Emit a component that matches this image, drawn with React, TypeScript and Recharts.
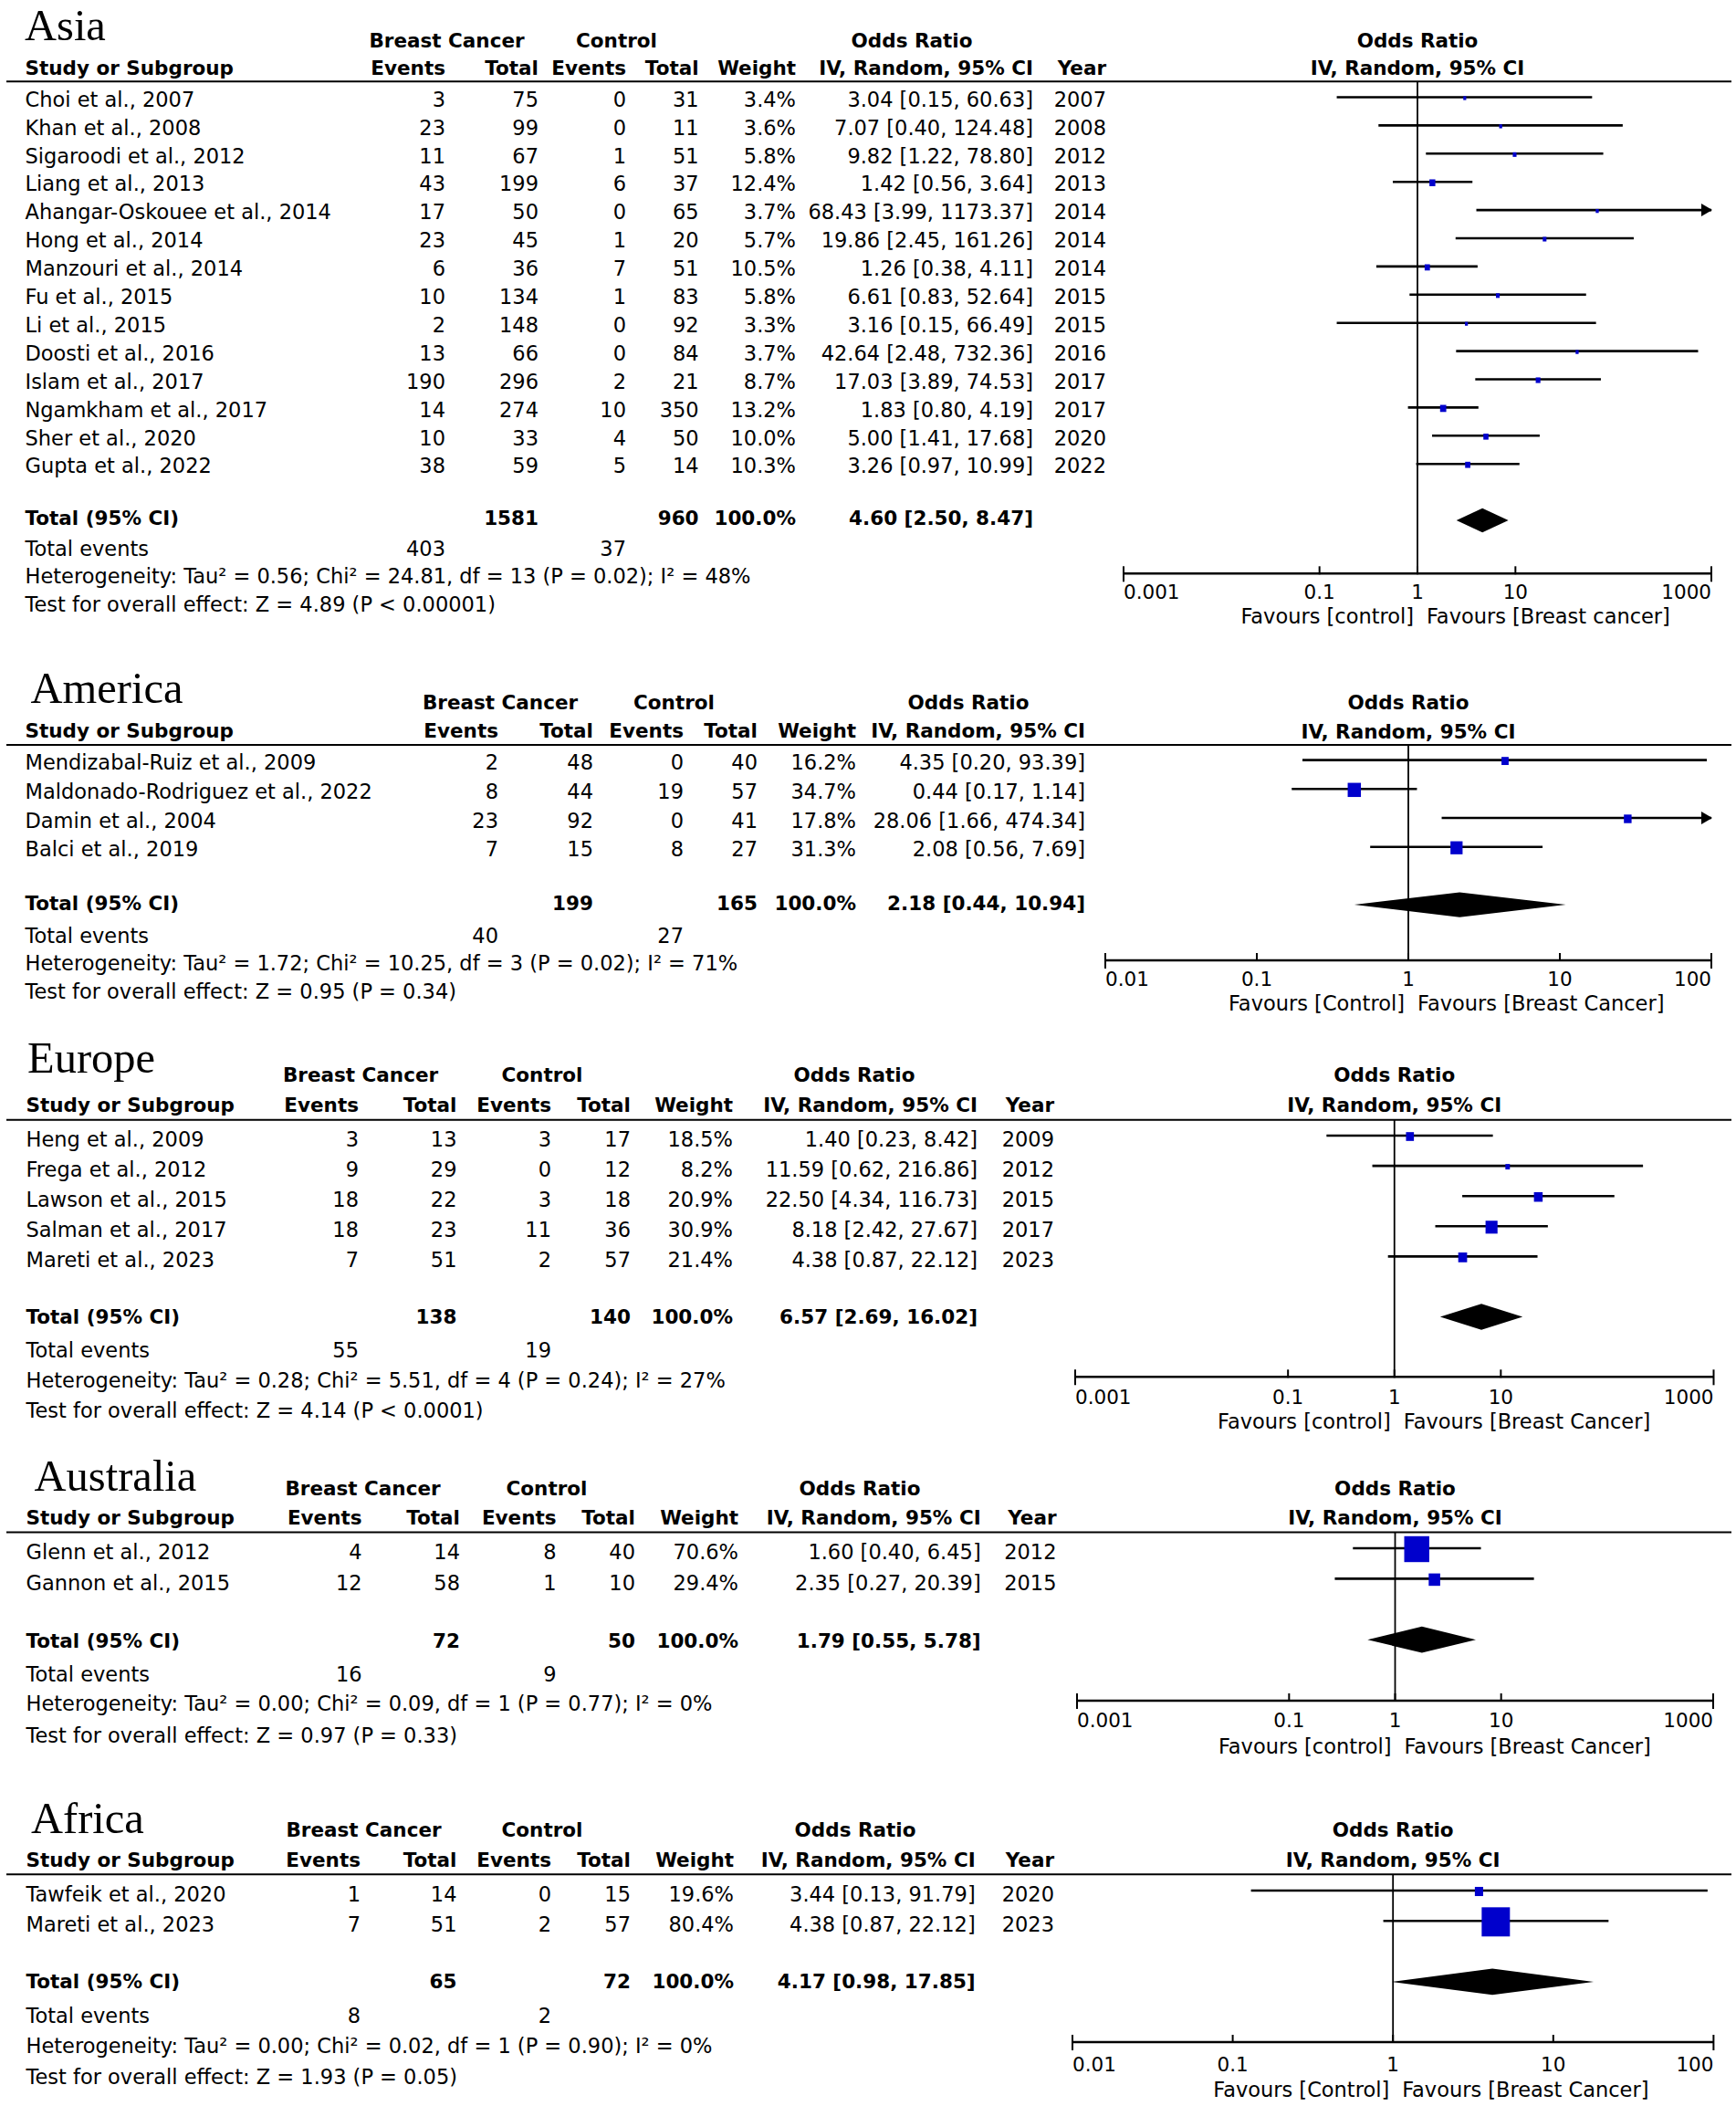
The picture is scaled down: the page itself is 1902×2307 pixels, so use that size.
import React from 'react';
import { ComposedChart, XAxis, YAxis, Scatter, Area, ReferenceLine } from 'recharts';

const FONT = '"DejaVu Sans", "Noto Sans", sans-serif';
const SERIF = '"Liberation Serif", "DejaVu Serif", serif';
const FS = 22.5;
const FSB = 21.5;
const SQUARE = '#0000CC';

// ---------------- Asia ----------------
const asiaStudies = ['Choi et al., 2007', 'Khan et al., 2008', 'Sigaroodi et al., 2012', 'Liang et al., 2013', 'Ahangar-Oskouee et al., 2014', 'Hong et al., 2014', 'Manzouri et al., 2014', 'Fu et al., 2015', 'Li et al., 2015', 'Doosti et al., 2016', 'Islam et al., 2017', 'Ngamkham et al., 2017', 'Sher et al., 2020', 'Gupta et al., 2022'];
const asiaBcEvents = [3, 23, 11, 43, 17, 23, 6, 10, 2, 13, 190, 14, 10, 38];
const asiaBcTotal = [75, 99, 67, 199, 50, 45, 36, 134, 148, 66, 296, 274, 33, 59];
const asiaCtrlEvents = [0, 0, 1, 6, 0, 1, 7, 1, 0, 0, 2, 10, 4, 5];
const asiaCtrlTotal = [31, 11, 51, 37, 65, 20, 51, 83, 92, 84, 21, 350, 50, 14];
const asiaWeight = [3.4, 3.6, 5.8, 12.4, 3.7, 5.7, 10.5, 5.8, 3.3, 3.7, 8.7, 13.2, 10.0, 10.3];
const asiaOR = [3.04, 7.07, 9.82, 1.42, 68.43, 19.86, 1.26, 6.61, 3.16, 42.64, 17.03, 1.83, 5.0, 3.26];
const asiaLower = [0.15, 0.4, 1.22, 0.56, 3.99, 2.45, 0.38, 0.83, 0.15, 2.48, 3.89, 0.8, 1.41, 0.97];
const asiaUpper = [60.63, 124.48, 78.8, 3.64, 1173.37, 161.26, 4.11, 52.64, 66.49, 732.36, 74.53, 4.19, 17.68, 10.99];
const asiaYears = [2007, 2008, 2012, 2013, 2014, 2014, 2014, 2015, 2015, 2016, 2017, 2017, 2020, 2022];
const asiaTotals = [1581, 960];
const asiaPooled = [4.6, 2.5, 8.47];
const asiaEvents = [403, 37];
const asiaHet = 'Heterogeneity: Tau² = 0.56; Chi² = 24.81, df = 13 (P = 0.02); I² = 48%';
const asiaOverall = 'Test for overall effect: Z = 4.89 (P < 0.00001)';
const asiaTicks = [0.001, 0.1, 1, 10, 1000];
const asiaTickLabels = ['0.001', '0.1', '1', '10', '1000'];
const asiaFavours = ['Favours [control]', 'Favours [Breast cancer]'];

// ---------------- America ----------------
const amStudies = ['Mendizabal-Ruiz et al., 2009', 'Maldonado-Rodriguez et al., 2022', 'Damin et al., 2004', 'Balci et al., 2019'];
const amBcEvents = [2, 8, 23, 7];
const amBcTotal = [48, 44, 92, 15];
const amCtrlEvents = [0, 19, 0, 8];
const amCtrlTotal = [40, 57, 41, 27];
const amWeight = [16.2, 34.7, 17.8, 31.3];
const amOR = [4.35, 0.44, 28.06, 2.08];
const amLower = [0.2, 0.17, 1.66, 0.56];
const amUpper = [93.39, 1.14, 474.34, 7.69];
const amTotals = [199, 165];
const amPooled = [2.18, 0.44, 10.94];
const amEvents = [40, 27];
const amHet = 'Heterogeneity: Tau² = 1.72; Chi² = 10.25, df = 3 (P = 0.02); I² = 71%';
const amOverall = 'Test for overall effect: Z = 0.95 (P = 0.34)';
const amTicks = [0.01, 0.1, 1, 10, 100];
const amTickLabels = ['0.01', '0.1', '1', '10', '100'];
const amFavours = ['Favours [Control]', 'Favours [Breast Cancer]'];

// ---------------- Europe ----------------
const euStudies = ['Heng et al., 2009', 'Frega et al., 2012', 'Lawson et al., 2015', 'Salman et al., 2017', 'Mareti et al., 2023'];
const euBcEvents = [3, 9, 18, 18, 7];
const euBcTotal = [13, 29, 22, 23, 51];
const euCtrlEvents = [3, 0, 3, 11, 2];
const euCtrlTotal = [17, 12, 18, 36, 57];
const euWeight = [18.5, 8.2, 20.9, 30.9, 21.4];
const euOR = [1.4, 11.59, 22.5, 8.18, 4.38];
const euLower = [0.23, 0.62, 4.34, 2.42, 0.87];
const euUpper = [8.42, 216.86, 116.73, 27.67, 22.12];
const euYears = [2009, 2012, 2015, 2017, 2023];
const euTotals = [138, 140];
const euPooled = [6.57, 2.69, 16.02];
const euEvents = [55, 19];
const euHet = 'Heterogeneity: Tau² = 0.28; Chi² = 5.51, df = 4 (P = 0.24); I² = 27%';
const euOverall = 'Test for overall effect: Z = 4.14 (P < 0.0001)';
const euTicks = [0.001, 0.1, 1, 10, 1000];
const euTickLabels = ['0.001', '0.1', '1', '10', '1000'];
const euFavours = ['Favours [control]', 'Favours [Breast Cancer]'];

// ---------------- Australia ----------------
const auStudies = ['Glenn et al., 2012', 'Gannon et al., 2015'];
const auBcEvents = [4, 12];
const auBcTotal = [14, 58];
const auCtrlEvents = [8, 1];
const auCtrlTotal = [40, 10];
const auWeight = [70.6, 29.4];
const auOR = [1.6, 2.35];
const auLower = [0.4, 0.27];
const auUpper = [6.45, 20.39];
const auYears = [2012, 2015];
const auTotals = [72, 50];
const auPooled = [1.79, 0.55, 5.78];
const auEvents = [16, 9];
const auHet = 'Heterogeneity: Tau² = 0.00; Chi² = 0.09, df = 1 (P = 0.77); I² = 0%';
const auOverall = 'Test for overall effect: Z = 0.97 (P = 0.33)';
const auTicks = [0.001, 0.1, 1, 10, 1000];
const auTickLabels = ['0.001', '0.1', '1', '10', '1000'];
const auFavours = ['Favours [control]', 'Favours [Breast Cancer]'];

// ---------------- Africa ----------------
const afStudies = ['Tawfeik et al., 2020', 'Mareti et al., 2023'];
const afBcEvents = [1, 7];
const afBcTotal = [14, 51];
const afCtrlEvents = [0, 2];
const afCtrlTotal = [15, 57];
const afWeight = [19.6, 80.4];
const afOR = [3.44, 4.38];
const afLower = [0.13, 0.87];
const afUpper = [91.79, 22.12];
const afYears = [2020, 2023];
const afTotals = [65, 72];
const afPooled = [4.17, 0.98, 17.85];
const afEvents = [8, 2];
const afHet = 'Heterogeneity: Tau² = 0.00; Chi² = 0.02, df = 1 (P = 0.90); I² = 0%';
const afOverall = 'Test for overall effect: Z = 1.93 (P = 0.05)';
const afTicks = [0.01, 0.1, 1, 10, 100];
const afTickLabels = ['0.01', '0.1', '1', '10', '100'];
const afFavours = ['Favours [Control]', 'Favours [Breast Cancer]'];

type Layout = {
  titleX: number; titleBase: number; h1: number; h2: number; lineY: number;
  row0: number; rowGap: number; totalBase: number; eventsBase: number; hetBase: number; testBase: number;
  axisY: number; tickBase: number; favBase: number; pxMin: number; pxMax: number;
  nameX: number; ev1: number; tot1: number; ev2: number; tot2: number; wt: number; orX: number; yearX: number;
  bcHead: number; ctrlHead: number; orHead: number; ciOff: number;
};

type Panel = {
  title: string; studies: string[]; bcE: number[]; bcT: number[]; cE: number[]; cT: number[];
  w: number[]; or: number[]; lo: number[]; hi: number[]; years?: number[];
  totals: number[]; pooled: number[]; events: number[]; het: string; overall: string;
  ticks: number[]; tickLabels: string[]; favours: string[]; L: Layout;
};

const panels: Panel[] = [
  {
    title: 'Asia', studies: asiaStudies, bcE: asiaBcEvents, bcT: asiaBcTotal, cE: asiaCtrlEvents, cT: asiaCtrlTotal,
    w: asiaWeight, or: asiaOR, lo: asiaLower, hi: asiaUpper, years: asiaYears, totals: asiaTotals, pooled: asiaPooled,
    events: asiaEvents, het: asiaHet, overall: asiaOverall, ticks: asiaTicks, tickLabels: asiaTickLabels, favours: asiaFavours,
    L: { titleX: 27, titleBase: 43.5, h1: 51.7, h2: 81.7, lineY: 89.3, row0: 116.7, rowGap: 30.9, totalBase: 575, eventsBase: 609.3,
      hetBase: 639.3, testBase: 670, axisY: 628, tickBase: 656, favBase: 683, pxMin: 1231, pxMax: 1875, nameX: 27.5,
      ev1: 488, tot1: 590, ev2: 686, tot2: 765.6, wt: 872, orX: 1132, yearX: 1212, bcHead: 489.5, ctrlHead: 675.5, orHead: 999, ciOff: 10.5 },
  },
  {
    title: 'America', studies: amStudies, bcE: amBcEvents, bcT: amBcTotal, cE: amCtrlEvents, cT: amCtrlTotal,
    w: amWeight, or: amOR, lo: amLower, hi: amUpper, totals: amTotals, pooled: amPooled,
    events: amEvents, het: amHet, overall: amOverall, ticks: amTicks, tickLabels: amTickLabels, favours: amFavours,
    L: { titleX: 33.5, titleBase: 770, h1: 776.7, h2: 808.3, lineY: 816, row0: 843.3, rowGap: 31.7, totalBase: 996.7, eventsBase: 1032.7,
      hetBase: 1063.3, testBase: 1094, axisY: 1051.7, tickBase: 1080, favBase: 1106.7, pxMin: 1211, pxMax: 1875, nameX: 27.5,
      ev1: 546, tot1: 650, ev2: 749, tot2: 830, wt: 938, orX: 1189, yearX: 0, bcHead: 548, ctrlHead: 738.5, orHead: 1061, ciOff: 11 },
  },
  {
    title: 'Europe', studies: euStudies, bcE: euBcEvents, bcT: euBcTotal, cE: euCtrlEvents, cT: euCtrlTotal,
    w: euWeight, or: euOR, lo: euLower, hi: euUpper, years: euYears, totals: euTotals, pooled: euPooled,
    events: euEvents, het: euHet, overall: euOverall, ticks: euTicks, tickLabels: euTickLabels, favours: euFavours,
    L: { titleX: 30, titleBase: 1175, h1: 1185, h2: 1218.3, lineY: 1226.7, row0: 1256, rowGap: 33.1, totalBase: 1450, eventsBase: 1487.3,
      hetBase: 1520, testBase: 1552.7, axisY: 1508.3, tickBase: 1538, favBase: 1565, pxMin: 1177.5, pxMax: 1877, nameX: 28.5,
      ev1: 393, tot1: 500.5, ev2: 604, tot2: 691, wt: 803, orX: 1071, yearX: 1155, bcHead: 395, ctrlHead: 594, orHead: 936, ciOff: 12 },
  },
  {
    title: 'Australia', studies: auStudies, bcE: auBcEvents, bcT: auBcTotal, cE: auCtrlEvents, cT: auCtrlTotal,
    w: auWeight, or: auOR, lo: auLower, hi: auUpper, years: auYears, totals: auTotals, pooled: auPooled,
    events: auEvents, het: auHet, overall: auOverall, ticks: auTicks, tickLabels: auTickLabels, favours: auFavours,
    L: { titleX: 37.6, titleBase: 1633.3, h1: 1638.3, h2: 1670, lineY: 1678.5, row0: 1708.3, rowGap: 33.4, totalBase: 1805, eventsBase: 1841.7,
      hetBase: 1874, testBase: 1909.3, axisY: 1863.3, tickBase: 1892.7, favBase: 1921.7, pxMin: 1180.4, pxMax: 1877.4, nameX: 28.5,
      ev1: 396.6, tot1: 504, ev2: 609.6, tot2: 696, wt: 809, orX: 1074.7, yearX: 1157.5, bcHead: 397.5, ctrlHead: 599, orHead: 942, ciOff: 12 },
  },
  {
    title: 'Africa', studies: afStudies, bcE: afBcEvents, bcT: afBcTotal, cE: afCtrlEvents, cT: afCtrlTotal,
    w: afWeight, or: afOR, lo: afLower, hi: afUpper, years: afYears, totals: afTotals, pooled: afPooled,
    events: afEvents, het: afHet, overall: afOverall, ticks: afTicks, tickLabels: afTickLabels, favours: afFavours,
    L: { titleX: 34, titleBase: 2008.3, h1: 2011.7, h2: 2045, lineY: 2053.3, row0: 2082.7, rowGap: 33.3, totalBase: 2178.3, eventsBase: 2216,
      hetBase: 2249.3, testBase: 2282.7, axisY: 2236.7, tickBase: 2268.3, favBase: 2296.7, pxMin: 1175, pxMax: 1877.4, nameX: 28.5,
      ev1: 395, tot1: 500.5, ev2: 604, tot2: 691, wt: 804, orX: 1068.7, yearX: 1155, bcHead: 398.5, ctrlHead: 594, orHead: 937, ciOff: 12 },
  },
];

const f2 = (v: number) => v.toFixed(2);
const orText = (o: number, l: number, h: number) => `${f2(o)} [${f2(l)}, ${f2(h)}]`;

const T = ({ x, y, a = 'start', b = false, children }: any) => (
  <text x={x} y={y} textAnchor={a} fontFamily={FONT} fontSize={b ? FSB : FS} fontWeight={b ? 'bold' : 'normal'} fill="#000">
    {children}
  </text>
);

function TableText({ p }: { p: Panel }) {
  const L = p.L;
  const rowY = (i: number) => L.row0 + i * L.rowGap;
  return (
    <g>
      <text x={L.titleX} y={L.titleBase} fontFamily={SERIF} fontSize={48.5} fill="#000">{p.title}</text>
      <T x={L.bcHead} y={L.h1} a="middle" b>Breast Cancer</T>
      <T x={L.ctrlHead} y={L.h1} a="middle" b>Control</T>
      <T x={L.orHead} y={L.h1} a="middle" b>Odds Ratio</T>
      <T x={L.nameX} y={L.h2} b>Study or Subgroup</T>
      <T x={L.ev1} y={L.h2} a="end" b>Events</T>
      <T x={L.tot1} y={L.h2} a="end" b>Total</T>
      <T x={L.ev2} y={L.h2} a="end" b>Events</T>
      <T x={L.tot2} y={L.h2} a="end" b>Total</T>
      <T x={L.wt} y={L.h2} a="end" b>Weight</T>
      <T x={L.orX} y={L.h2} a="end" b>IV, Random, 95% CI</T>
      {p.years && <T x={L.yearX} y={L.h2} a="end" b>Year</T>}
      <line x1={7} x2={1897} y1={L.lineY} y2={L.lineY} stroke="#000" strokeWidth={2} />
      {p.studies.map((s, i) => (
        <g key={i}>
          <T x={L.nameX} y={rowY(i)}>{s}</T>
          <T x={L.ev1} y={rowY(i)} a="end">{p.bcE[i]}</T>
          <T x={L.tot1} y={rowY(i)} a="end">{p.bcT[i]}</T>
          <T x={L.ev2} y={rowY(i)} a="end">{p.cE[i]}</T>
          <T x={L.tot2} y={rowY(i)} a="end">{p.cT[i]}</T>
          <T x={L.wt} y={rowY(i)} a="end">{p.w[i].toFixed(1) + '%'}</T>
          <T x={L.orX} y={rowY(i)} a="end">{orText(p.or[i], p.lo[i], p.hi[i])}</T>
          {p.years && <T x={L.yearX} y={rowY(i)} a="end">{p.years[i]}</T>}
        </g>
      ))}
      <T x={L.nameX} y={L.totalBase} b>Total (95% CI)</T>
      <T x={L.tot1} y={L.totalBase} a="end" b>{p.totals[0]}</T>
      <T x={L.tot2} y={L.totalBase} a="end" b>{p.totals[1]}</T>
      <T x={L.wt} y={L.totalBase} a="end" b>100.0%</T>
      <T x={L.orX} y={L.totalBase} a="end" b>{orText(p.pooled[0], p.pooled[1], p.pooled[2])}</T>
      <T x={L.nameX} y={L.eventsBase}>Total events</T>
      <T x={L.ev1} y={L.eventsBase} a="end">{p.events[0]}</T>
      <T x={L.ev2} y={L.eventsBase} a="end">{p.events[1]}</T>
      <T x={L.nameX} y={L.hetBase}>{p.het}</T>
      <T x={L.nameX} y={L.testBase}>{p.overall}</T>
    </g>
  );
}

const AxisTick = (props: any) => {
  const { x, y, payload, tv, tl, dy } = props;
  const idx = tv.indexOf(payload.value);
  const last = tv.length - 1;
  const isEnd = idx === 0 || idx === last;
  const anchor = idx === 0 ? 'start' : idx === last ? 'end' : 'middle';
  return (
    <g>
      <line x1={x} x2={x} y1={y - 8} y2={y + (isEnd ? 9 : 1)} stroke="#000" strokeWidth={2} />
      <text x={x} y={y + dy} textAnchor={anchor} fontFamily={FONT} fontSize={21.5} fill="#000">{tl[idx]}</text>
    </g>
  );
};

// CI line drawn from the two points Recharts computed through its scales
const CiLine = (lp: any) => {
  const pts = lp.points || [];
  if (pts.length < 2) return <g />;
  return (
    <line x1={pts[0].x} y1={pts[0].y} x2={pts[pts.length - 1].x} y2={pts[pts.length - 1].y} stroke="#000" strokeWidth={2.6} />
  );
};

function Forest({ p }: { p: Panel }) {
  const L = p.L;
  const padX = 30;
  const chartTop = L.h1 - 30;
  const chartBottom = L.favBase + 10;
  const width = L.pxMax - L.pxMin + 2 * padX;
  const height = chartBottom - chartTop;
  const center0 = L.row0 - L.ciOff;
  const yTop = (L.lineY - center0) / L.rowGap;
  const yBottom = (L.axisY - center0) / L.rowGap;
  const n = p.studies.length;
  const totalRow = n + 1;
  const dmin = p.ticks[0];
  const dmax = p.ticks[p.ticks.length - 1];
  const half = 0.43;
  const diamond = [
    { x: p.pooled[1], band: [totalRow, totalRow] },
    { x: p.pooled[0], band: [totalRow - half, totalRow + half] },
    { x: p.pooled[2], band: [totalRow, totalRow] },
  ];
  const squares = p.or.map((o, i) => ({ x: o, y: i, w: p.w[i] }));
  const arrows = p.hi.map((h, i) => ({ h, i })).filter((d) => d.h > dmax).map((d) => ({ x: dmax, y: d.i }));

  const Square = (s: any) => {
    const size = 2 + 0.36 * s.payload.w;
    return <rect x={s.cx - size / 2} y={s.cy - size / 2 + 0.5} width={size} height={size + 1} fill={SQUARE} />;
  };
  const Arrow = (s: any) => (
    <polygon points={`${s.cx + 1},${s.cy} ${s.cx - 11},${s.cy - 7} ${s.cx - 11},${s.cy + 7}`} fill="#000" />
  );
  const Header = (s: any) => (
    <g>
      <text x={s.cx} y={s.cy - (L.lineY - L.h1)} textAnchor="middle" fontFamily={FONT} fontSize={FSB} fontWeight="bold" fill="#000">Odds Ratio</text>
      <text x={s.cx} y={s.cy - (L.lineY - L.h2)} textAnchor="middle" fontFamily={FONT} fontSize={FSB} fontWeight="bold" fill="#000">IV, Random, 95% CI</text>
    </g>
  );
  const Fav = (s: any) => (
    <g>
      <text x={s.cx - 4} y={s.cy + (L.favBase - L.axisY)} textAnchor="end" fontFamily={FONT} fontSize={FS} fill="#000">{p.favours[0]}</text>
      <text x={s.cx + 10} y={s.cy + (L.favBase - L.axisY)} textAnchor="start" fontFamily={FONT} fontSize={FS} fill="#000">{p.favours[1]}</text>
    </g>
  );
  const Empty = () => <g />;

  return (
    <div style={{ position: 'absolute', left: L.pxMin - padX, top: chartTop }}>
      <ComposedChart width={width} height={height} data={diamond} margin={{ top: L.lineY - chartTop, right: padX, bottom: 0, left: padX }}>
        <XAxis
          dataKey="x"
          type="number"
          scale="log"
          domain={[dmin, dmax]}
          ticks={p.ticks}
          interval={0}
          height={chartBottom - L.axisY}
          tickLine={false}
          tickSize={0}
          tickMargin={0}
          axisLine={{ stroke: '#000', strokeWidth: 2.5 }}
          tick={<AxisTick tv={p.ticks} tl={p.tickLabels} dy={L.tickBase - L.axisY} />}
        />
        <YAxis dataKey="y" type="number" domain={[yTop, yBottom]} reversed hide scale="linear" />
        <ReferenceLine x={1} stroke="#000" strokeWidth={1.8} />
        {p.lo.map((l, i) => (
          <Scatter
            key={'ci' + i}
            data={[{ x: l, y: i }, { x: Math.min(p.hi[i], dmax), y: i }]}
            fill="#000"
            line={CiLine}
            shape={Empty}
            isAnimationActive={false}
          />
        ))}
        <Scatter data={arrows} shape={Arrow} isAnimationActive={false} />
        <Scatter data={squares} shape={Square} isAnimationActive={false} />
        <Area dataKey="band" type="linear" fill="#000" fillOpacity={1} stroke="none" dot={false} activeDot={false} isAnimationActive={false} />
        <Scatter data={[{ x: 1, y: yTop }]} shape={Header} isAnimationActive={false} />
        <Scatter data={[{ x: 1, y: yBottom }]} shape={Fav} isAnimationActive={false} />
      </ComposedChart>
    </div>
  );
}

export default function App() {
  return (
    <div style={{ position: 'relative', width: 1902, height: 2307, overflow: 'hidden', background: '#fff' }}>
      <style>{'html,body{margin:0;padding:0;overflow:hidden;background:#fff}'}</style>
      <svg width={1902} height={2307} style={{ position: 'absolute', left: 0, top: 0 }}>
        {panels.map((p) => (
          <TableText key={p.title} p={p} />
        ))}
      </svg>
      {panels.map((p) => (
        <Forest key={p.title} p={p} />
      ))}
    </div>
  );
}
